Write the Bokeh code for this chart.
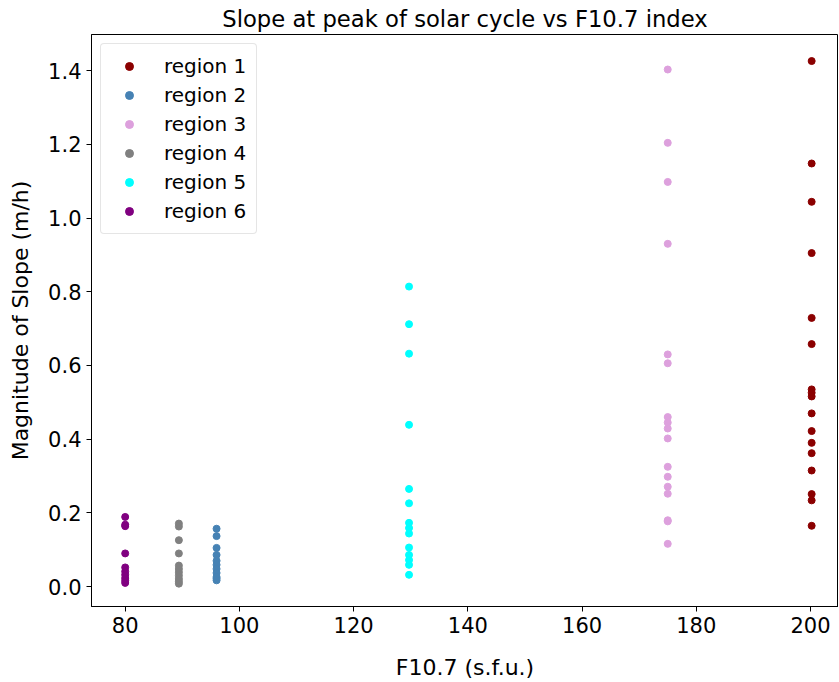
from bokeh.plotting import figure
from bokeh.models import Range1d, FixedTicker, NumeralTickFormatter
from bokeh.embed import file_html
from bokeh.resources import INLINE

# data
x_r1 = 200.2
y_r1 = [1.426, 1.148, 1.044, 0.905, 0.729, 0.658, 0.535, 0.526, 0.516, 0.470,
        0.422, 0.390, 0.362, 0.315, 0.251, 0.234, 0.165]
x_r2 = 96.0
y_r2 = [0.157, 0.137, 0.105, 0.086, 0.070, 0.059, 0.048, 0.037, 0.026, 0.022, 0.017]
x_r3 = 175.0
y_r3 = [1.403, 1.204, 1.098, 0.930, 0.630, 0.606, 0.460, 0.445, 0.429, 0.402,
        0.325, 0.298, 0.271, 0.252, 0.180, 0.177, 0.116]
x_r4 = 89.4
y_r4 = [0.171, 0.163, 0.126, 0.090, 0.057, 0.048, 0.039, 0.030, 0.021, 0.014, 0.008]
x_r5 = 129.7
y_r5 = [0.814, 0.712, 0.632, 0.439, 0.265, 0.226, 0.173, 0.159, 0.144, 0.106,
        0.086, 0.072, 0.059, 0.032]
x_r6 = 80.0
y_r6 = [0.189, 0.168, 0.164, 0.090, 0.052, 0.041, 0.032, 0.023, 0.016, 0.010]

regions = ["region 1", "region 2", "region 3", "region 4", "region 5", "region 6"]
colors = ["#8B0000", "#4682B4", "#DDA0DD", "#808080", "#00FFFF", "#800080"]
xs = [x_r1, x_r2, x_r3, x_r4, x_r5, x_r6]
ys = [y_r1, y_r2, y_r3, y_r4, y_r5, y_r6]

x_ticks = [80, 100, 120, 140, 160, 180, 200]
y_ticks = [0.0, 0.2, 0.4, 0.6, 0.8, 1.0, 1.2, 1.4]

FONT = "DejaVu Sans"

p = figure(width=838, height=682, output_backend="svg", toolbar_location=None,
           title="Slope at peak of solar cycle vs F10.7 index",
           x_range=Range1d(74.1, 204.9), y_range=Range1d(-0.054, 1.498),
           min_border_left=91, min_border_right=0, min_border_bottom=0, min_border_top=0)

for name, c, xv, yv in zip(regions, colors, xs, ys):
    p.scatter([xv] * len(yv), yv, size=7, fill_color=c, line_color=c, legend_label=name)

p.title.align = "center"
p.title.text_font = FONT
p.title.text_font_size = "22.7px"
p.title.text_font_style = "normal"
p.title.text_color = "black"
p.title.standoff = 6

p.xgrid.visible = False
p.ygrid.visible = False
p.outline_line_color = "black"
p.outline_line_width = 1
p.background_fill_color = "white"
p.border_fill_color = "white"

for ax in (p.xaxis[0], p.yaxis[0]):
    ax.axis_line_color = "black"
    ax.major_tick_line_color = "black"
    ax.minor_tick_line_color = None
    ax.major_tick_out = 5
    ax.major_tick_in = 0
    ax.major_label_text_font = FONT
    ax.major_label_text_font_size = "21px"
    ax.major_label_text_color = "black"
    ax.axis_label_text_font = FONT
    ax.axis_label_text_font_style = "normal"
    ax.axis_label_text_color = "black"
    ax.axis_label_text_font_size = "22px"

p.xaxis.ticker = FixedTicker(ticks=x_ticks)
p.yaxis.ticker = FixedTicker(ticks=y_ticks)
p.yaxis.formatter = NumeralTickFormatter(format="0.0")
p.xaxis.axis_label = "F10.7 (s.f.u.)"
p.yaxis.axis_label = "Magnitude of Slope (m/h)"
p.xaxis.major_label_standoff = 5
p.yaxis.major_label_standoff = 5
p.xaxis.axis_label_standoff = 19
p.yaxis.axis_label_standoff = 12

lg = p.legend[0]
lg.location = "top_left"
lg.margin = 9
lg.padding = 10
lg.spacing = 5
lg.glyph_width = 36
lg.glyph_height = 20
lg.label_height = 20
lg.label_standoff = 17
lg.label_text_font = FONT
lg.label_text_font_size = "20px"
lg.label_text_color = "black"
lg.border_line_color = "#cccccc"
lg.border_line_width = 1
lg.border_radius = 4
lg.background_fill_alpha = 0.8

open("out.html", "w").write(file_html(p, INLINE))
